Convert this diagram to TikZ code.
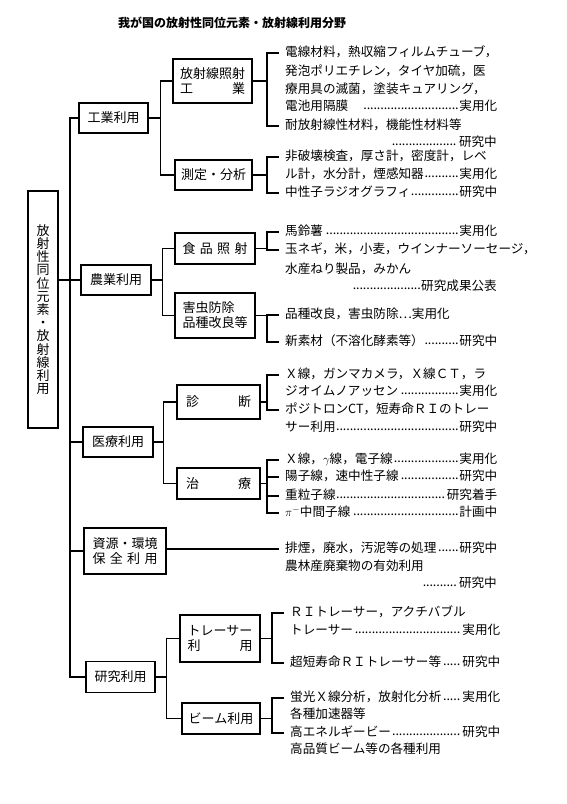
\documentclass[tikz,border=0pt]{standalone}
\usepackage{fontspec}
\setmainfont{Noto Sans CJK JP}
\usetikzlibrary{positioning}
\XeTeXlinebreaklocale "ja"
\XeTeXlinebreakskip=0pt plus 3pt
\hbadness=10000
\hfuzz=30pt

\newcommand{\rdots}{\leaders\hbox to 3.4pt{\hss\raisebox{0.12em}{.}\hss}\hfill}
\newcommand{\fl}[2][212pt]{\hbox to #1{#2}}
\newcommand{\dl}[3][212pt]{\hbox to #1{#2\rdots#3}}
\newcommand{\rl}[2]{\hbox to #1{\rdots#2}}
\newcommand{\spread}[1]{\hbox to 5em{#1}}

\begin{document}
\begin{tikzpicture}[x=1pt, y=-1pt,
      every node/.style={inner sep=0pt},
      conn/.style={line width=1.1pt, line cap=rect},
      root/.style={draw, line width=2pt, minimum width=30, minimum height=237,
                   align=center, font=\fontsize{13}{13.2}\selectfont},
      cat/.style={draw, line width=1.8pt, minimum width=70, minimum height=30,
                  align=center, font=\fontsize{13}{15}\selectfont},
      sub/.style={cat, minimum width=80},
      item/.style={anchor=west, text height=0.88em, text depth=0.12em,
                   font=\fontsize{12.6}{15}\selectfont},
      ritem/.style={item, anchor=east},
  ]
    \useasboundingbox (0,0) rectangle (566,804);

    \node[font=\fontsize{12}{14}\selectfont\bfseries] (title) at (232,23)
      {我が国の放射性同位元素・放射線利用分野};

    \node[root] (root) at (43,309.5)
      {放\\射\\性\\同\\位\\元\\素\\・\\放\\射\\線\\利\\用};

    % first level
    \node[cat, minimum width=69] (ind) at (113.5,118) {工業利用};
    \node[cat] (agr) at (116,280) {農業利用};
    \node[cat] (med) at (118,442) {医療利用};
    \node[cat, minimum width=82, minimum height=46] (env) at (125,551)
      {資源・環境\\\spread{保\hfill 全\hfill 利\hfill 用}};
    \node[cat, minimum width=69, minimum height=31] (res) at (120.5,677) {研究利用};

    \coordinate (trunk) at (70,0);
    \draw[conn] (ind.west) -- (trunk |- ind.west) -- (trunk |- res.west) -- (res.west);
    \draw[conn] (root.east |- agr.west) -- (agr.west);
    \draw[conn] (trunk |- med.west) -- (med.west);
    \draw[conn] (trunk |- env.west) -- (env.west);

    % second level
    \node[sub, minimum width=79, minimum height=44] (irr) at (212.5,81)
      {放射線照射\\\spread{工\hfill 業}};
    \node[sub, minimum width=77] (mea) at (213.5,175) {測定・分析};
    \node[sub, minimum height=31] (food) at (215,248.5)
      {\spread{食\hfill 品\hfill 照\hfill 射}};
    \node[sub, minimum height=45, align=left] (pest) at (215,315.5)
      {害虫防除\\品種改良等};
    \node[sub, minimum width=83, minimum height=34] (diag) at (218.5,402)
      {\spread{診\hfill 断}};
    \node[sub, minimum width=83, minimum height=31] (ther) at (218.5,483.5)
      {\spread{治\hfill 療}};
    \node[sub, minimum height=47] (trac) at (220,638.5)
      {トレーサー\\\spread{利\hfill 用}};
    \node[sub, minimum width=78, minimum height=31] (beam) at (221,718.5) {ビーム利用};

    \coordinate (bi) at ([xshift=12]ind.east);
    \coordinate (ba) at ([xshift=11]agr.east);
    \coordinate (bm) at ([xshift=10]med.east);
    \coordinate (br) at ([xshift=11]res.east);
    \draw[conn] (ind.east) -- (bi);
    \draw[conn] (irr.west) -| (bi) |- (mea.west);
    \draw[conn] (agr.east) -- (ba);
    \draw[conn] (food.west) -| (ba) |- (pest.west);
    \draw[conn] (med.east) -- (bm);
    \draw[conn] (diag.west) -| (bm) |- (ther.west);
    \draw[conn] (res.east) -- (br);
    \draw[conn] (trac.west) -| (br) |- (beam.west);

    % uses
    \node[item] (irr1) at (285,53) {\fl{電線材料，熱収縮フィルムチューブ，}};
    \node[item] (irr2) at (285,72) {\fl{発泡ポリエチレン，タイヤ加硫，医}};
    \node[item] (irr3) at (285,90) {\fl{療用具の滅菌，塗装キュアリング，}};
    \node[item] (irr4) at (285,107) {\dl{電池用隔膜\hspace{1em}}{実用化}};
    \node[item] (irr5) at (285,126) {耐放射線性材料，機能性材料等};
    \node[ritem] (irr6) at (497,143) {\rl{105pt}{研究中}};

    \node[item] (mea1) at (285,157) {\fl{非破壊検査，厚さ計，密度計，レベ}};
    \node[item] (mea2) at (285,175) {\dl{ル計，水分計，煙感知器}{実用化}};
    \node[item] (mea3) at (285,193) {\dl{中性子ラジオグラフィ}{研究中}};

    \node[item] (food1) at (285,232) {\dl{馬鈴薯}{実用化}};
    \node[item] (food2) at (285,250) {\fl{玉ネギ，米，小麦，ウインナーソーセージ，}};
    \node[item] (food3) at (285,270) {水産ねり製品，みかん};
    \node[ritem] (food4) at (497,287) {\rl{144pt}{研究成果公表}};

    \node[item] (pest1) at (285,315) {品種改良，害虫防除…実用化};
    \node[item] (pest2) at (285,342) {\dl{新素材（不溶化酵素等）}{研究中}};

    \node[item] (diag1) at (285,375) {\fl{Ｘ線，ガンマカメラ，Ｘ線ＣＴ，ラ}};
    \node[item] (diag2) at (285,392) {\dl{ジオイムノアッセン}{実用化}};
    \node[item] (diag3) at (285,410) {\fl{ポジトロンCT，短寿命ＲＩのトレー}};
    \node[item] (diag4) at (285,428) {\dl{サー利用}{研究中}};

    \node[item] (ther1) at (285,460) {\dl{Ｘ線，\(\gamma\)線，電子線}{実用化}};
    \node[item] (ther2) at (285,477) {\dl{陽子線，速中性子線}{研究中}};
    \node[item] (ther3) at (285,496) {\dl{重粒子線}{研究着手}};
    \node[item] (ther4) at (285,513) {\dl{\(\pi^{-}\)中間子線}{計画中}};

    \node[item] (env1) at (285,549) {\dl{排煙，廃水，汚泥等の処理}{研究中}};
    \node[item] (env2) at (285,567) {農林産廃棄物の有効利用};
    \node[ritem] (env3) at (497,584) {\rl{74pt}{研究中}};

    \node[item] (trac1) at (290,613) {\fl[184pt]{ＲＩトレーサー，アクチバブル}};
    \node[item] (trac2) at (290,631) {\dl[210pt]{トレーサー}{実用化}};
    \node[item] (trac3) at (290,663) {\dl[210pt]{超短寿命ＲＩトレーサー等}{研究中}};

    \node[item] (beam1) at (290,698) {\dl[210pt]{蛍光Ｘ線分析，放射化分析}{実用化}};
    \node[item] (beam2) at (290,715) {各種加速器等};
    \node[item] (beam3) at (290,733) {\dl[210pt]{高エネルギービー}{研究中}};
    \node[item] (beam4) at (290,750) {高品質ビーム等の各種利用};

    % brackets
    \foreach \t in {irr1,irr5,mea1,mea3,food1,food2,pest1,pest2,diag1,diag3,
                    ther1,ther2,ther3,ther4,trac1,trac3,beam1,beam3}
      \draw[conn] ([xshift=-7]\t.west) -- ([xshift=-18]\t.west);
    \draw[conn] ([xshift=-18]irr1.west) -- ([xshift=-18]irr5.west);
    \draw[conn] ([xshift=-18]mea1.west) -- ([xshift=-18]mea3.west);
    \draw[conn] ([xshift=-18]food1.west) -- ([xshift=-18]food2.west);
    \draw[conn] ([xshift=-18]pest1.west) -- ([xshift=-18]pest2.west);
    \draw[conn] ([xshift=-18]diag1.west) -- ([xshift=-18]diag3.west);
    \draw[conn] ([xshift=-18]ther1.west) -- ([xshift=-18]ther4.west);
    \draw[conn] ([xshift=-18]trac1.west) -- ([xshift=-18]trac3.west);
    \draw[conn] ([xshift=-18]beam1.west) -- ([xshift=-18]beam3.west);

    \draw[conn, shorten >=18pt] (irr.east) -- (irr.east -| irr1.west);
    \draw[conn, shorten >=18pt] (mea.east) -- (mea.east -| mea1.west);
    \draw[conn, shorten >=18pt] (food.east) -- (food.east -| food1.west);
    \draw[conn, shorten >=18pt] (pest.east) -- (pest.east -| pest1.west);
    \draw[conn, shorten >=18pt] (diag.east) -- (diag.east -| diag1.west);
    \draw[conn, shorten >=18pt] (ther.east) -- (ther.east -| ther1.west);
    \draw[conn, shorten >=18pt] (trac.east) -- (trac.east -| trac1.west);
    \draw[conn, shorten >=18pt] (beam.east) -- (beam.east -| beam1.west);
    \draw[conn, shorten >=7pt] (env.east |- env1.west) -- (env1.west);
\end{tikzpicture}
\end{document}
